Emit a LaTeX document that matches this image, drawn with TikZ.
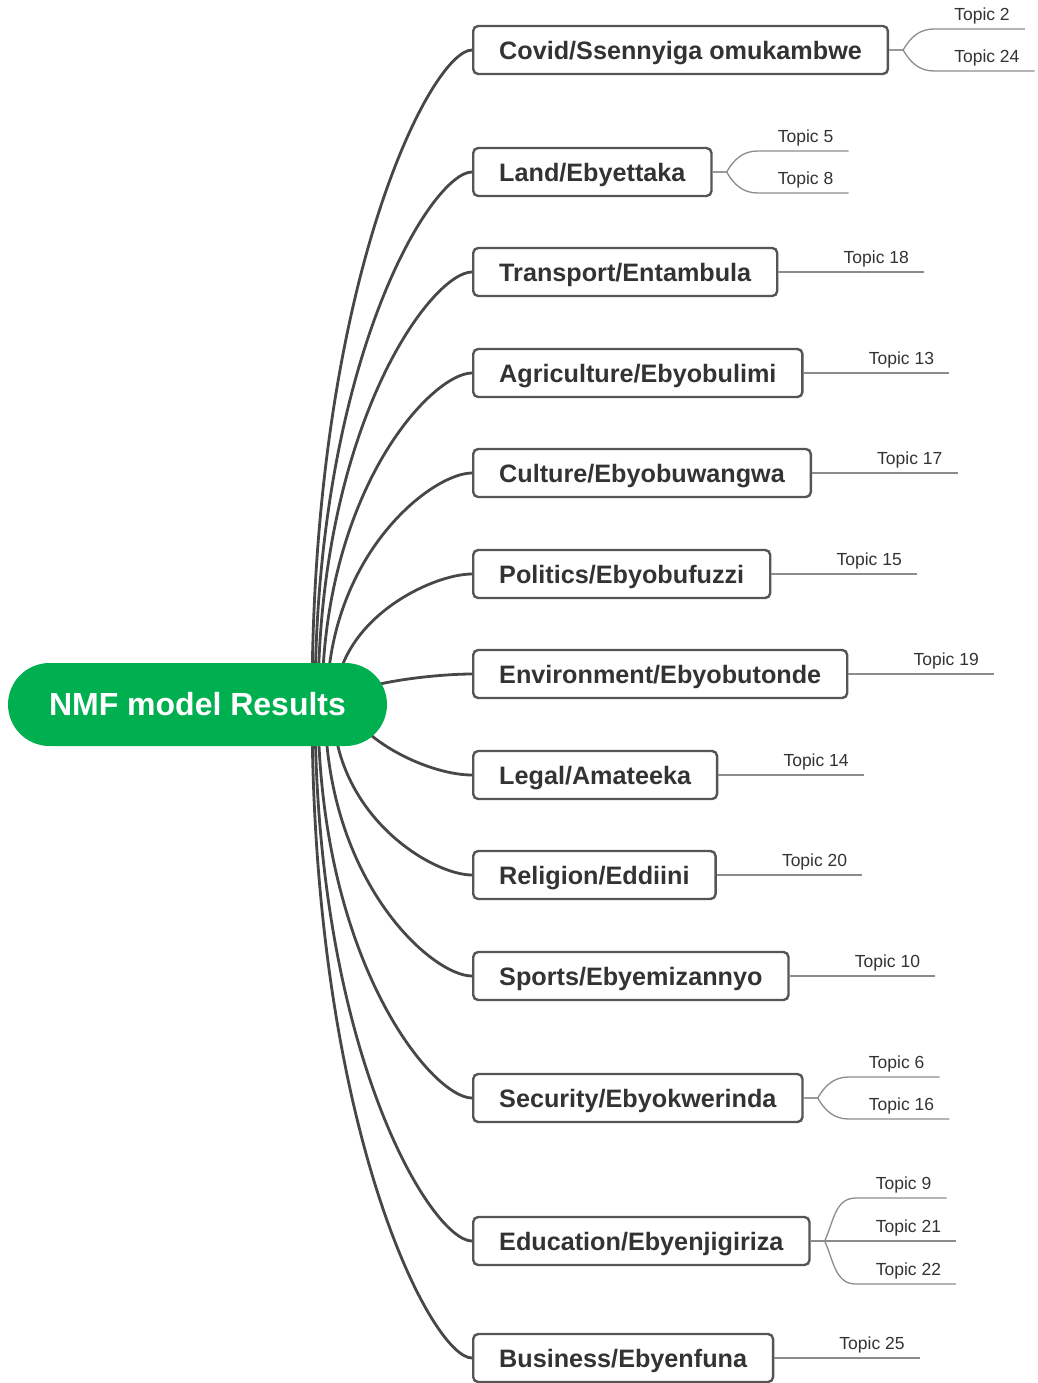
\documentclass[tikz,border=0pt]{standalone}
\usepackage{fontspec}
\setmainfont{Liberation Sans}
\usetikzlibrary{positioning,backgrounds}
\definecolor{NmfGreen}{HTML}{00B050}
\definecolor{BranchGrey}{HTML}{474747}
\definecolor{BoxGrey}{HTML}{555555}
\definecolor{InkGrey}{HTML}{333333}
\definecolor{LeafGrey}{HTML}{8C8C8C}
\tikzset{
  % Central pill
  hub/.style={
    rectangle, rounded corners=41.5pt,
    fill=NmfGreen, text=white,
    minimum width=379pt, minimum height=83pt, inner sep=0pt,
    font=\fontsize{32}{38}\selectfont\bfseries
  },
  % Category box
  cat/.style={
    rectangle, rounded corners=5pt,
    draw=BoxGrey, line width=2.4pt, fill=white, text=InkGrey,
    anchor=west, minimum height=48pt, inner xsep=26pt,
    text height=20pt, text depth=1pt,
    font=\fontsize{25.2}{30}\selectfont\bfseries
  },
  % Topic label sitting on its underline
  topic/.style={
    anchor=south west, inner xsep=0pt, inner ysep=4pt,
    text height=12.5pt, text depth=4pt, text=InkGrey,
    font=\fontsize{17.5}{21}\selectfont
  },
  % Curved branch from the pill
  branch/.style={draw=BranchGrey, line width=2.8pt},
  % Thin leaf line
  leaf/.style={draw=LeafGrey, line width=1.3pt}
}

\begin{document}
\begin{tikzpicture}[x=1pt, y=-1pt]
  \useasboundingbox (0,0) rectangle (1037,1383);

  % Central node
  \node[hub] (root) at (197.5,704.5) {NMF model Results};

  % Categories
  \node[cat] (covid)    at (472,50)   {Covid/Ssennyiga omukambwe};
  \node[cat] (land)     at (472,172)  {Land/Ebyettaka};
  \node[cat] (transp)   at (472,272)  {Transport/Entambula};
  \node[cat] (agri)     at (472,373)  {Agriculture/Ebyobulimi};
  \node[cat] (culture)  at (472,473)  {Culture/Ebyobuwangwa};
  \node[cat] (politics) at (472,574)  {Politics/Ebyobufuzzi};
  \node[cat] (environ)  at (472,674)  {Environment/Ebyobutonde};
  \node[cat] (legal)    at (472,775)  {Legal/Amateeka};
  \node[cat] (religion) at (472,875)  {Religion/Eddiini};
  \node[cat] (sports)   at (472,976)  {Sports/Ebyemizannyo};
  \node[cat] (security) at (472,1098) {Security/Ebyokwerinda};
  \node[cat] (educ)     at (472,1241) {Education/Ebyenjigiriza};
  \node[cat] (business) at (472,1358) {Business/Ebyenfuna};

  % Topics
  \node[topic] (t2)  at ([shift={(65,-21)}]covid.east)   {Topic 2};
  \node[topic] (t24) at ([shift={(65,21)}]covid.east)    {Topic 24};
  \node[topic] (t5)  at ([shift={(65,-21)}]land.east)    {Topic 5};
  \node[topic] (t8)  at ([shift={(65,21)}]land.east)     {Topic 8};
  \node[topic] (t18) at ([xshift=65pt]transp.east)       {Topic 18};
  \node[topic] (t13) at ([xshift=65pt]agri.east)         {Topic 13};
  \node[topic] (t17) at ([xshift=65pt]culture.east)      {Topic 17};
  \node[topic] (t15) at ([xshift=65pt]politics.east)     {Topic 15};
  \node[topic] (t19) at ([xshift=65pt]environ.east)      {Topic 19};
  \node[topic] (t14) at ([xshift=65pt]legal.east)        {Topic 14};
  \node[topic] (t20) at ([xshift=65pt]religion.east)     {Topic 20};
  \node[topic] (t10) at ([xshift=65pt]sports.east)       {Topic 10};
  \node[topic] (t6)  at ([shift={(65,-21)}]security.east) {Topic 6};
  \node[topic] (t16) at ([shift={(65,21)}]security.east)  {Topic 16};
  \node[topic] (t9)  at ([shift={(65,-43)}]educ.east)    {Topic 9};
  \node[topic] (t21) at ([xshift=65pt]educ.east)         {Topic 21};
  \node[topic] (t22) at ([shift={(65,43)}]educ.east)     {Topic 22};
  \node[topic] (t25) at ([xshift=65pt]business.east)     {Topic 25};

  % Leaf lines
  \draw[leaf] (covid.east) -- ++(14,0) to[out=60,in=180] ([xshift=-20pt]t2.south west) -- ([xshift=15pt]t2.south east);
  \draw[leaf] (covid.east) -- ++(14,0) to[out=-60,in=180] ([xshift=-20pt]t24.south west) -- ([xshift=15pt]t24.south east);
  \draw[leaf] (land.east) -- ++(14,0) to[out=60,in=180] ([xshift=-20pt]t5.south west) -- ([xshift=15pt]t5.south east);
  \draw[leaf] (land.east) -- ++(14,0) to[out=-60,in=180] ([xshift=-20pt]t8.south west) -- ([xshift=15pt]t8.south east);
  \draw[leaf] (transp.east)   -- ([xshift=15pt]t18.south east);
  \draw[leaf] (agri.east)     -- ([xshift=15pt]t13.south east);
  \draw[leaf] (culture.east)  -- ([xshift=15pt]t17.south east);
  \draw[leaf] (politics.east) -- ([xshift=15pt]t15.south east);
  \draw[leaf] (environ.east)  -- ([xshift=15pt]t19.south east);
  \draw[leaf] (legal.east)    -- ([xshift=15pt]t14.south east);
  \draw[leaf] (religion.east) -- ([xshift=15pt]t20.south east);
  \draw[leaf] (sports.east)   -- ([xshift=15pt]t10.south east);
  \draw[leaf] (security.east) -- ++(14,0) to[out=60,in=180] ([xshift=-20pt]t6.south west) -- ([xshift=15pt]t6.south east);
  \draw[leaf] (security.east) -- ++(14,0) to[out=-60,in=180] ([xshift=-20pt]t16.south west) -- ([xshift=15pt]t16.south east);
  \draw[leaf] (educ.east) -- ++(14,0) to[out=65,in=180] ([xshift=-20pt]t9.south west) -- ([xshift=15pt]t9.south east);
  \draw[leaf] (educ.east) -- ([xshift=15pt]t21.south east);
  \draw[leaf] (educ.east) -- ++(14,0) to[out=-65,in=180] ([xshift=-20pt]t22.south west) -- ([xshift=15pt]t22.south east);
  \draw[leaf] (business.east) -- ([xshift=15pt]t25.south east);

  % Branches, behind the pill
  \begin{scope}[on background layer]
    \draw[branch] ([xshift=114.5pt]root.center) .. controls +(0,-425) and +(-40,0) .. (covid.west);
    \draw[branch] ([xshift=117.5pt]root.center) .. controls +(0,-346) and +(-40,0) .. (land.west);
    \draw[branch] ([xshift=120.5pt]root.center) .. controls +(0,-281) and +(-40,0) .. (transp.west);
    \draw[branch] ([xshift=124.5pt]root.center) .. controls +(0,-215) and +(-40,0) .. (agri.west);
    \draw[branch] ([xshift=129.5pt]root.center) .. controls +(0,-150) and +(-40,0) .. (culture.west);
    \draw[branch] ([xshift=137.5pt]root.center) .. controls +(0,-85) and +(-40,0) .. (politics.west);
    \draw[branch] ([xshift=142.5pt]root.center) .. controls +(0,-20) and +(-40,0) .. (environ.west);
    \draw[branch] ([xshift=147.5pt]root.center) .. controls +(20,40) and +(-40,0) .. (legal.west);
    \draw[branch] ([xshift=135.5pt]root.center) .. controls +(0,111) and +(-40,0) .. (religion.west);
    \draw[branch] ([xshift=127.5pt]root.center) .. controls +(0,177) and +(-40,0) .. (sports.west);
    \draw[branch] ([xshift=120.5pt]root.center) .. controls +(0,256) and +(-40,0) .. (security.west);
    \draw[branch] ([xshift=117.5pt]root.center) .. controls +(0,349) and +(-40,0) .. (educ.west);
    \draw[branch] ([xshift=114.5pt]root.center) .. controls +(0,425) and +(-40,0) .. (business.west);
  \end{scope}
\end{tikzpicture}
\end{document}
